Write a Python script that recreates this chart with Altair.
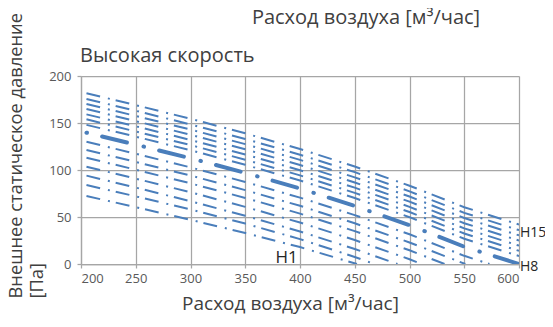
import altair as alt
import pandas as pd

# ---- data ----
series_names = ["H1", "H2", "H3", "H4", "H5", "H6", "H7", "H8",
                "H9", "H10", "H11", "H12", "H13", "H14", "H15"]

x_full = [205, 250, 300, 350, 400, 450, 500, 550, 600]

curves = {
    "H15": (x_full, [181.7, 169.0, 154.5, 139.0, 122.3, 103.7, 83.3, 60.4, 42.0]),
    "H14": (x_full, [175.5, 163.0, 148.5, 133.0, 116.3, 97.7, 77.3, 54.4, 36.0]),
    "H13": (x_full, [170.2, 157.5, 143.0, 127.5, 110.8, 92.2, 71.8, 48.9, 30.5]),
    "H12": (x_full, [164.9, 152.0, 137.5, 122.0, 105.3, 86.7, 66.3, 43.4, 25.0]),
    "H11": (x_full, [159.2, 146.5, 132.0, 116.5, 99.8, 81.2, 60.8, 37.9, 19.5]),
    "H10": (x_full, [153.9, 141.0, 126.5, 111.0, 94.3, 75.7, 55.3, 32.4, 14.0]),
    "H9":  (x_full, [148.0, 135.5, 121.0, 105.5, 88.8, 70.2, 49.8, 26.9, 8.5]),
    "H8":  (x_full, [139.7, 127.0, 112.5, 97.0, 80.3, 61.7, 41.3, 18.4, 0.0]),
    "H7":  ([205, 250, 300, 350, 400, 450, 500, 550, 573],
            [130.0, 117.3, 102.8, 87.3, 70.6, 52.0, 31.6, 8.7, 0.0]),
    "H6":  ([205, 250, 300, 350, 400, 450, 500, 551],
            [121.3, 108.6, 94.1, 78.6, 61.9, 43.3, 22.9, 0.0]),
    "H5":  ([205, 250, 300, 350, 400, 450, 500, 532],
            [113.0, 100.3, 85.8, 70.3, 53.6, 35.0, 14.6, 0.0]),
    "H4":  ([205, 250, 300, 350, 400, 450, 500, 511],
            [103.5, 90.8, 76.3, 60.8, 44.1, 25.5, 5.1, 0.0]),
    "H3":  ([205, 250, 300, 350, 400, 450, 489],
            [94.0, 81.3, 66.8, 51.3, 34.6, 16.0, 0.0]),
    "H2":  ([205, 250, 300, 350, 400, 450, 468],
            [84.0, 72.0, 58.0, 43.0, 26.5, 7.5, 0.0]),
    "H1":  ([205, 250, 300, 350, 400, 452],
            [72.3, 60.5, 47.0, 33.0, 18.0, 0.0]),
}

x_ticks = [200, 250, 300, 350, 400, 450, 500, 550, 600]
y_ticks = [0, 50, 100, 150, 200]

label_text = ["H15", "H8", "H1"]
label_x = [600, 600, 398]
label_y = [33.5, -2.7, 0]
label_align = ["left", "left", "right"]

top_title = "Расход воздуха [м³/час]"
sub_title = "Высокая скорость"
x_title = "Расход воздуха [м³/час]"
y_title = ["Внешнее статическое давление", "[Па]"]

# ---- build table ----
rows = []
for name in series_names:
    xs, ys = curves[name]
    for i, (xv, yv) in enumerate(zip(xs, ys)):
        rows.append({"series": name, "idx": i, "x": xv, "y": yv})
df = pd.DataFrame(rows)

BLUE = "#4a7ebb"
FONT = "Open Sans"
GRID = "#a6a6a6"
TXT = "#404040"

xenc = alt.X("x:Q",
             scale=alt.Scale(domain=[200, 600], nice=False, zero=False),
             axis=alt.Axis(values=x_ticks, title=x_title, grid=True,
                           titleX=209, titleY=45, titleAnchor="start",
                           titleAlign="center", titleBaseline="alphabetic",
                           titleFontSize=19, labelPadding=4))
yenc = alt.Y("y:Q",
             scale=alt.Scale(domain=[0, 200], nice=False),
             axis=alt.Axis(values=y_ticks, title=y_title, grid=True,
                           titleAngle=-90, titleX=-59.5, titleY=222,
                           titleAlign="left", titleBaseline="alphabetic",
                           titleFontSize=18.3,
                           titleLineHeight=21, labelPadding=6))

base = alt.Chart(df)

thin = base.transform_filter(alt.datum.series != "H8").mark_line(
    color=BLUE, strokeWidth=2, strokeDash=[14, 8, 2, 6], clip=True
).encode(x=xenc, y=yenc, detail="series:N", order="idx:Q")

thick = base.transform_filter(alt.datum.series == "H8").mark_line(
    color=BLUE, strokeWidth=4, strokeDash=[0.5, 15.6, 25.5, 17.1],
    strokeCap="round", clip=True
).encode(x="x:Q", y="y:Q", detail="series:N", order="idx:Q")

lab_df = pd.DataFrame({"t": label_text, "x": label_x, "y": label_y,
                       "a": label_align})
labs_left = alt.Chart(lab_df).transform_filter(alt.datum.a == "left").mark_text(
    align="left", baseline="middle", dx=1, fontSize=14, font=FONT, color="#262626"
).encode(x="x:Q", y="y:Q", text="t:N")
labs_right = alt.Chart(lab_df).transform_filter(alt.datum.a == "right").mark_text(
    align="right", baseline="alphabetic", dy=-1, fontSize=17, font=FONT, color="#262626"
).encode(x="x:Q", y="y:Q", text="t:N")

t1 = alt.Chart(pd.DataFrame({"t": [top_title]})).mark_text(
    align="center", baseline="alphabetic", fontSize=20, font=FONT, color=TXT
).encode(x=alt.value(285), y=alt.value(-52), text="t:N")
t2 = alt.Chart(pd.DataFrame({"t": [sub_title]})).mark_text(
    align="left", baseline="alphabetic", fontSize=20, font=FONT, color=TXT
).encode(x=alt.value(-1), y=alt.value(-14), text="t:N")

chart = alt.layer(thin, thick, labs_left, labs_right, t1, t2).properties(
    width=438, height=188,
    autosize=alt.AutoSizeParams(type="none"),
    padding={"left": 73, "top": 68, "right": 26, "bottom": 50},
).configure_view(stroke=None).configure_axis(
    gridColor=GRID, gridWidth=1.25, domainColor=GRID, domainWidth=1.25,
    tickColor=GRID, tickSize=4, tickWidth=1.25,
    labelFont=FONT, labelFontSize=13, labelColor="#595959",
    titleFont=FONT, titleColor=TXT, titleFontWeight="normal",
)

chart.save("out.html", embed_options={"renderer": "svg", "actions": False})
